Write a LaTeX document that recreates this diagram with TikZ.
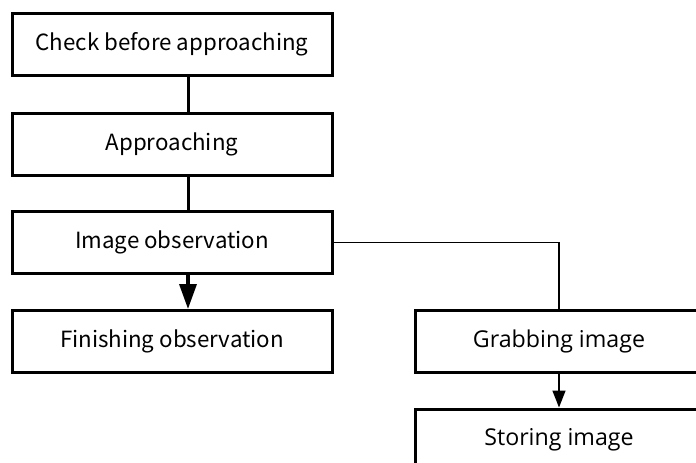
\documentclass[tikz,border=0pt]{standalone}
\usepackage{fontspec}
\setmainfont{Noto Sans CJK JP}
\newfontfamily\sidefont{Open Sans}
\usetikzlibrary{arrows.meta}
\begin{document}
\begin{tikzpicture}[x=1pt,y=-1pt,
  stepbox/.style={draw, line width=3pt, rectangle, inner sep=0pt,
    minimum width=320pt, minimum height=62pt,
    font=\fontsize{22.3}{26}\selectfont},
  sidebox/.style={stepbox, minimum width=288pt, font=\sidefont\fontsize{23.2}{27}\selectfont},
  link/.style={line width=3pt},
  boldarrow/.style={line width=3.5pt, -{Triangle[length=25pt,width=17pt]}},
  thinlink/.style={line width=1.5pt},
  thinarrow/.style={line width=1.5pt, -{Triangle[length=17pt,width=13pt]}}]
\useasboundingbox (0,0) rectangle (696,463);
\clip (0,0) rectangle (696,463);

% main sequence of steps
\node[stepbox] (check)  at (172,44)    {Check before approaching};
\node[stepbox] (appr)   at (172,144)   {Approaching};
\node[stepbox] (obs)    at (172,242.5) {Image observation};
\node[stepbox] (finish) at (172,341.5) {Finishing observation};
% side branch
\node[sidebox] (grab)   at (559,341)   {Grabbing image};
\node[sidebox] (store)  at (559,440)   {Storing image};

\draw[link] ([xshift=16pt]check.south) -- ([xshift=16pt]appr.north);
\draw[link] ([xshift=16pt]appr.south) -- ([xshift=16pt]obs.north);
\draw[boldarrow] ([xshift=16pt]obs.south) -- ([xshift=16pt]finish.north);
\draw[thinlink] (obs.east) -| (grab.north);
\draw[thinarrow] (grab.south) -- (store.north);
\end{tikzpicture}
\end{document}
